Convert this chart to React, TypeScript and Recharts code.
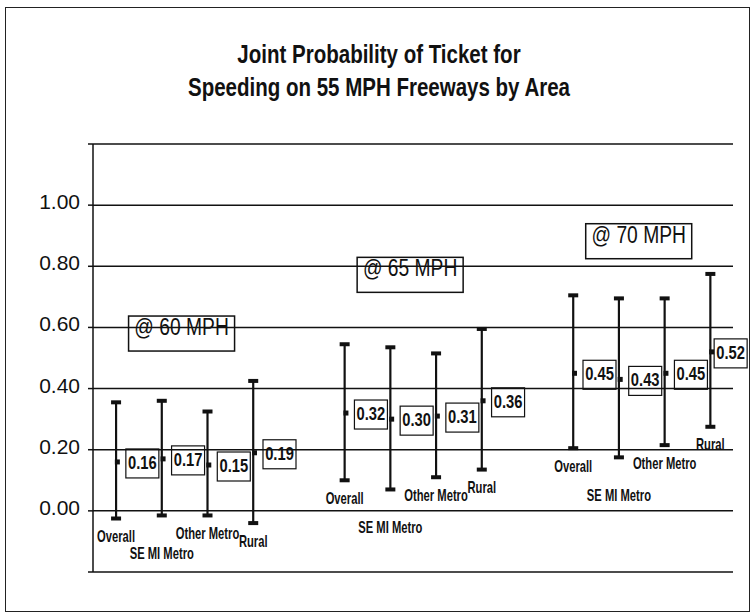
import { ComposedChart, Bar, Line, XAxis, YAxis, CartesianGrid, ReferenceDot } from "recharts";

const speeds = ["@ 60 MPH", "@ 65 MPH", "@ 70 MPH"];
const areas = ["Overall", "SE MI Metro", "Other Metro", "Rural"];

const mean60 = [0.16, 0.17, 0.15, 0.19];
const low60 = [-0.025, -0.015, -0.015, -0.04];
const high60 = [0.355, 0.36, 0.325, 0.425];

const mean65 = [0.32, 0.3, 0.31, 0.36];
const low65 = [0.1, 0.07, 0.11, 0.135];
const high65 = [0.545, 0.535, 0.515, 0.595];

const mean70 = [0.45, 0.43, 0.45, 0.52];
const low70 = [0.205, 0.175, 0.215, 0.275];
const high70 = [0.705, 0.695, 0.695, 0.775];

const speedLabelY = [0.58, 0.772, 0.882];
const yTicks = [-0.2, 0, 0.2, 0.4, 0.6, 0.8, 1.0, 1.2];

type Row = { key: string; area: string; mean: number | null; range: [number, number] | null };

const sets = [
  [mean60, low60, high60],
  [mean65, low65, high65],
  [mean70, low70, high70],
];

const rows: Row[] = [];
sets.forEach(([m, lo, hi], g) => {
  if (g > 0) rows.push({ key: `gap${g}`, area: "", mean: null, range: null });
  areas.forEach((a, i) => rows.push({ key: `${g}-${i}`, area: a, mean: m[i], range: [lo[i], hi[i]] }));
});

const FONT = "'Liberation Sans', Arial, sans-serif";
const INK = "#111";

// no narrow font installed, so squeeze the regular one
const NText = ({ x, y, size, bold, sx = 0.82, children }: any) => (
  <text
    transform={`translate(${x},${y}) scale(${sx},1)`}
    textAnchor="middle"
    fontFamily={FONT}
    fontWeight={bold ? "bold" : "normal"}
    fontSize={size}
    fill={INK}
  >
    {children}
  </text>
);

const RangeShape = (props: any) => {
  const { x, y, width, height, payload } = props;
  if (!payload || !payload.range) return <g />;
  const cx = x + width / 2;
  const top = Math.min(y, y + height);
  const bot = Math.max(y, y + height);
  const off = payload.area === "SE MI Metro" ? 38 : 18;
  return (
    <g>
      <line x1={cx} x2={cx} y1={top} y2={bot} stroke={INK} strokeWidth={2.2} />
      <rect x={cx - 5} y={top - 2} width={10} height={4} fill={INK} />
      <rect x={cx - 5} y={bot - 2} width={10} height={4} fill={INK} />
      <NText x={cx} y={bot + off + 5.5} size={16.5} bold sx={0.68}>
        {payload.area}
      </NText>
    </g>
  );
};

const MeanDot = (props: any) => {
  const { cx, cy, value, index } = props;
  if (value == null || cy == null || isNaN(cy)) return <g key={index} />;
  const bc = cy + 1.5;
  const left = index === rows.length - 1 ? cx + 4 : cx + 10;
  return (
    <g key={index}>
      <rect x={cx - 1} y={cy - 2.5} width={5} height={5} fill={INK} />
      <rect x={left} y={bc - 14.5} width={33} height={29} fill="none" stroke={INK} strokeWidth={1.2} />
      <NText x={left + 16.5} y={bc + 5.5} size={18} bold>
        {value.toFixed(2)}
      </NText>
    </g>
  );
};

const SpeedBox = (props: any) => {
  const { cx, cy, text } = props;
  const x = cx + 20;
  return (
    <g>
      <rect x={x - 53} y={cy - 17.5} width={106} height={35} fill="none" stroke={INK} strokeWidth={1.5} />
      <NText x={x} y={cy + 1.5} size={23.5}>
        {text}
      </NText>
    </g>
  );
};

const YTick = (props: any) => {
  const { x, y, payload } = props;
  const v = payload.value;
  if (v < 0 || v > 1) return <g />;
  return (
    <text x={x} y={y + 4} textAnchor="end" fontFamily={FONT} fontSize={21} fill={INK}>
      {v.toFixed(2)}
    </text>
  );
};

export default function App() {
  return (
    <div style={{ position: "fixed", left: 0, top: 0, width: 755, height: 615, background: "#fff" }}>
      <div
        style={{
          position: "absolute",
          left: 5,
          top: 7,
          width: 743,
          height: 603,
          border: "1.5px solid #222",
        }}
      />
      <div
        style={{
          position: "absolute",
          left: 0,
          top: 38,
          width: 758,
          textAlign: "center",
          fontFamily: FONT,
          fontWeight: "bold",
          fontSize: 25,
          lineHeight: "33px",
          color: INK,
          transform: "scaleX(0.82)",
          transformOrigin: "379px 0",
        }}
      >
        Joint Probability of Ticket for
        <br />
        Speeding on 55 MPH Freeways by Area
      </div>
      <div style={{ position: "absolute", left: 0, top: 0 }}>
        <ComposedChart width={755} height={615} data={rows} margin={{ top: 144, right: 22, bottom: 43, left: 8 }}>
          <CartesianGrid vertical={false} stroke={INK} strokeWidth={1.5} />
          <XAxis dataKey="key" hide />
          <YAxis
            domain={[-0.2, 1.2]}
            ticks={yTicks}
            interval={0}
            width={85}
            axisLine={{ stroke: INK, strokeWidth: 1.5 }}
            tickLine={{ stroke: INK, strokeWidth: 1.5 }}
            tickSize={5}
            tickMargin={8}
            tick={<YTick />}
          />
          <Bar dataKey="range" shape={<RangeShape />} isAnimationActive={false} />
          <Line dataKey="mean" stroke="none" dot={MeanDot} activeDot={false} isAnimationActive={false} />
          {speeds.map((s, g) => (
            <ReferenceDot
              key={s}
              x={`${g}-1`}
              y={speedLabelY[g]}
              ifOverflow="visible"
              shape={(p: any) => <SpeedBox {...p} text={s} />}
            />
          ))}
        </ComposedChart>
      </div>
    </div>
  );
}
